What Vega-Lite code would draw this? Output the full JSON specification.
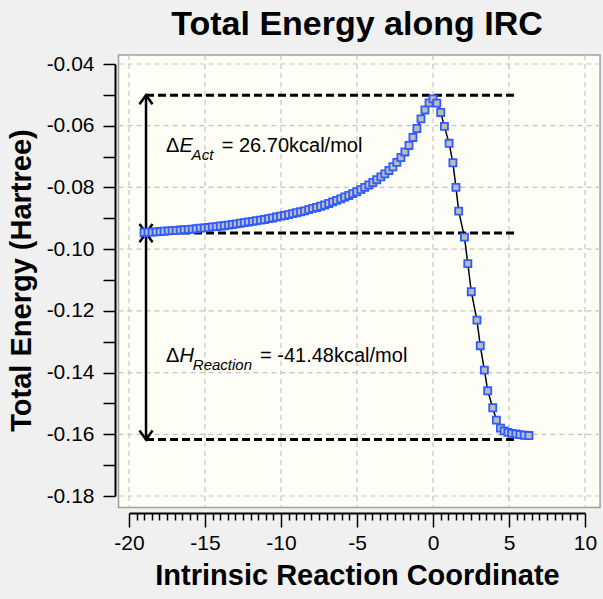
{
  "$schema": "https://vega.github.io/schema/vega-lite/v6.json",
  "autosize": "none",
  "width": 456,
  "height": 432,
  "padding": {"left": 129, "top": 64, "right": 18, "bottom": 103},
  "background": "#f0f0f0",
  "view": {"stroke": null},
  "title": {
    "text": "Total Energy along IRC",
    "font": "Liberation Sans",
    "fontSize": 34,
    "fontWeight": "bold",
    "color": "#000000",
    "anchor": "middle",
    "frame": "group",
    "offset": 11
  },
  "encoding": {
    "x": {
      "field": "x",
      "type": "quantitative",
      "scale": {"domain": [-20, 10], "nice": false, "zero": false},
      "axis": {
        "title": "Intrinsic Reaction Coordinate",
        "titleFont": "Liberation Sans",
        "titleFontSize": 29,
        "titleFontWeight": "bold",
        "titleColor": "#000000",
        "titlePadding": 8,
        "offset": 17,
        "grid": false,
        "values": [-20, -19.5, -19, -18.5, -18, -17.5, -17, -16.5, -16, -15.5, -15, -14.5, -14, -13.5, -13, -12.5, -12, -11.5, -11, -10.5, -10, -9.5, -9, -8.5, -8, -7.5, -7, -6.5, -6, -5.5, -5, -4.5, -4, -3.5, -3, -2.5, -2, -1.5, -1, -0.5, 0, 0.5, 1, 1.5, 2, 2.5, 3, 3.5, 4, 4.5, 5, 5.5, 6, 6.5, 7, 7.5, 8, 8.5, 9, 9.5, 10],
        "labelExpr": "datum.value % 5 === 0 ? (datum.value < 0 ? '-' + abs(datum.value) : '' + datum.value) : ''",
        "labelFont": "Liberation Sans",
        "labelFontSize": 21,
        "labelColor": "#000000",
        "labelPadding": 5,
        "labelFlush": false,
        "labelOverlap": false,
        "tickColor": "#000000",
        "tickWidth": 1.5,
        "tickSize": {"condition": {"test": "datum.value % 5 === 0", "value": 14}, "value": 7},
        "domainColor": "#000000",
        "domainWidth": 2
      }
    },
    "y": {
      "field": "y",
      "type": "quantitative",
      "scale": {"domain": [-0.18, -0.04], "nice": false, "zero": false},
      "axis": {
        "title": "Total Energy (Hartree)",
        "titleFont": "Liberation Sans",
        "titleFontSize": 29,
        "titleFontWeight": "bold",
        "titleColor": "#000000",
        "titlePadding": 10,
        "offset": 14,
        "grid": false,
        "values": [-0.18, -0.17, -0.16, -0.15, -0.14, -0.13, -0.12, -0.11, -0.1, -0.09, -0.08, -0.07, -0.06, -0.05, -0.04],
        "labelExpr": "round(datum.value * 100) % 2 === 0 ? '-' + format(abs(datum.value), '.2f') : ''",
        "labelFont": "Liberation Sans",
        "labelFontSize": 21,
        "labelColor": "#000000",
        "labelPadding": 9,
        "labelOverlap": false,
        "tickColor": "#000000",
        "tickWidth": 1.5,
        "tickSize": 12,
        "domainColor": "#000000",
        "domainWidth": 2
      }
    }
  },
  "layer": [
    {
      "data": {"values": [{"x": -20.69, "x2": 10.99, "y": -0.0371, "y2": -0.1837}]},
      "mark": {"type": "rect", "fill": "#fefef6", "stroke": "#a0a0a0", "strokeWidth": 1.5},
      "encoding": {"x2": {"field": "x2"}, "y2": {"field": "y2"}}
    },
    {
      "data": {"values": [
        {"x": -20, "x2": -20, "y": -0.0371, "y2": -0.1837},
        {"x": -15, "x2": -15, "y": -0.0371, "y2": -0.1837},
        {"x": -10, "x2": -10, "y": -0.0371, "y2": -0.1837},
        {"x": -5, "x2": -5, "y": -0.0371, "y2": -0.1837},
        {"x": 0, "x2": 0, "y": -0.0371, "y2": -0.1837},
        {"x": 5, "x2": 5, "y": -0.0371, "y2": -0.1837},
        {"x": 10, "x2": 10, "y": -0.0371, "y2": -0.1837},
        {"x": -20.69, "x2": 10.99, "y": -0.04, "y2": -0.04},
        {"x": -20.69, "x2": 10.99, "y": -0.06, "y2": -0.06},
        {"x": -20.69, "x2": 10.99, "y": -0.08, "y2": -0.08},
        {"x": -20.69, "x2": 10.99, "y": -0.1, "y2": -0.1},
        {"x": -20.69, "x2": 10.99, "y": -0.12, "y2": -0.12},
        {"x": -20.69, "x2": 10.99, "y": -0.14, "y2": -0.14},
        {"x": -20.69, "x2": 10.99, "y": -0.16, "y2": -0.16},
        {"x": -20.69, "x2": 10.99, "y": -0.18, "y2": -0.18}
      ]},
      "mark": {"type": "rule", "color": "#c4c4c4", "strokeWidth": 1.2, "strokeDash": [5, 4]},
      "encoding": {"x2": {"field": "x2"}, "y2": {"field": "y2"}}
    },
    {
      "data": {"values": [
        {"level": "TS", "y": -0.0501, "x": -18.88, "x2": 5.53},
        {"level": "Reactant", "y": -0.0948, "x": -18.88, "x2": 5.53},
        {"level": "Product", "y": -0.1617, "x": -18.88, "x2": 5.53}
      ]},
      "mark": {"type": "rule", "color": "#000000", "strokeWidth": 3, "strokeDash": [8, 4]},
      "encoding": {"x2": {"field": "x2"}}
    },
    {
      "data": {"values": [
        {"x": -18.88, "y": -0.0501, "y2": -0.0948},
        {"x": -18.88, "y": -0.0948, "y2": -0.1617}
      ]},
      "mark": {"type": "rule", "color": "#000000", "strokeWidth": 2.5},
      "encoding": {"y2": {"field": "y2"}}
    },
    {
      "data": {"values": [
        {"x": -18.88, "y": -0.0501, "dir": "up"},
        {"x": -18.88, "y": -0.0948, "dir": "down"},
        {"x": -18.88, "y": -0.0948, "dir": "up"},
        {"x": -18.88, "y": -0.1617, "dir": "down"}
      ]},
      "mark": {"type": "point", "filled": false, "stroke": "#000000", "strokeWidth": 2.5, "opacity": 1, "size": 170},
      "encoding": {
        "shape": {
          "field": "dir",
          "type": "nominal",
          "scale": {"domain": ["up", "down"], "range": ["M-1,1.4L0,0L1,1.4", "M-1,-1.4L0,0L1,-1.4"]},
          "legend": null
        }
      }
    },
    {
      "data": {"name": "irc"},
      "mark": {"type": "line", "color": "#000000", "strokeWidth": 1.5}
    },
    {
      "data": {"name": "irc"},
      "mark": {"type": "point", "shape": "square", "filled": true, "fill": "#bcbcbc", "stroke": "#2f5cff", "strokeWidth": 1.8, "opacity": 1, "size": 50}
    },
    {
      "data": {"values": [
        {"x": -17.57, "y": -0.06843, "text": "Δ"},
        {"x": -17.57, "y": -0.1366, "text": "Δ"},
        {"x": -13.9, "y": -0.06843, "text": "= 26.70kcal/mol"},
        {"x": -11.38, "y": -0.1366, "text": "= -41.48kcal/mol"}
      ]},
      "mark": {"type": "text", "font": "Liberation Sans", "fontSize": 20, "align": "left", "baseline": "alphabetic", "color": "#000000"},
      "encoding": {"text": {"field": "text"}}
    },
    {
      "data": {"values": [
        {"x": -16.68, "y": -0.06843, "text": "E"},
        {"x": -16.68, "y": -0.1366, "text": "H"}
      ]},
      "mark": {"type": "text", "font": "Liberation Sans", "fontSize": 20, "fontStyle": "italic", "align": "left", "baseline": "alphabetic", "color": "#000000"},
      "encoding": {"text": {"field": "text"}}
    },
    {
      "data": {"values": [
        {"x": -15.88, "y": -0.071, "text": "Act"},
        {"x": -15.8, "y": -0.1392, "text": "Reaction"}
      ]},
      "mark": {"type": "text", "font": "Liberation Sans", "fontSize": 15, "fontStyle": "italic", "align": "left", "baseline": "alphabetic", "color": "#000000"},
      "encoding": {"text": {"field": "text"}}
    }
  ],
  "datasets": {
    "irc": [
      {"x": -19.01, "y": -0.0946}, {"x": -18.75, "y": -0.0945}, {"x": -18.48, "y": -0.0945}, {"x": -18.22, "y": -0.0944},
      {"x": -17.95, "y": -0.0943}, {"x": -17.69, "y": -0.0942}, {"x": -17.42, "y": -0.0941}, {"x": -17.16, "y": -0.094},
      {"x": -16.9, "y": -0.0939}, {"x": -16.63, "y": -0.0938}, {"x": -16.37, "y": -0.0937}, {"x": -16.1, "y": -0.0936},
      {"x": -15.84, "y": -0.0935}, {"x": -15.58, "y": -0.0934}, {"x": -15.31, "y": -0.0932}, {"x": -15.05, "y": -0.0931},
      {"x": -14.78, "y": -0.093}, {"x": -14.52, "y": -0.0928}, {"x": -14.26, "y": -0.0927}, {"x": -13.99, "y": -0.0925},
      {"x": -13.73, "y": -0.0924}, {"x": -13.46, "y": -0.0922}, {"x": -13.2, "y": -0.092}, {"x": -12.94, "y": -0.0918},
      {"x": -12.67, "y": -0.0916}, {"x": -12.41, "y": -0.0914}, {"x": -12.14, "y": -0.0912}, {"x": -11.88, "y": -0.091},
      {"x": -11.62, "y": -0.0908}, {"x": -11.35, "y": -0.0906}, {"x": -11.09, "y": -0.0904}, {"x": -10.82, "y": -0.0901},
      {"x": -10.56, "y": -0.0899}, {"x": -10.3, "y": -0.0896}, {"x": -10.03, "y": -0.0893}, {"x": -9.77, "y": -0.0891},
      {"x": -9.5, "y": -0.0888}, {"x": -9.24, "y": -0.0885}, {"x": -8.98, "y": -0.0882}, {"x": -8.71, "y": -0.0879},
      {"x": -8.45, "y": -0.0876}, {"x": -8.18, "y": -0.0872}, {"x": -7.92, "y": -0.0868}, {"x": -7.66, "y": -0.0865},
      {"x": -7.39, "y": -0.0861}, {"x": -7.13, "y": -0.0857}, {"x": -6.86, "y": -0.0852}, {"x": -6.6, "y": -0.0847},
      {"x": -6.34, "y": -0.0842}, {"x": -6.07, "y": -0.0837}, {"x": -5.81, "y": -0.0831}, {"x": -5.54, "y": -0.0826},
      {"x": -5.28, "y": -0.082}, {"x": -5.02, "y": -0.0814}, {"x": -4.75, "y": -0.0807}, {"x": -4.49, "y": -0.08},
      {"x": -4.22, "y": -0.0792}, {"x": -3.96, "y": -0.0784}, {"x": -3.7, "y": -0.0775}, {"x": -3.43, "y": -0.0766},
      {"x": -3.17, "y": -0.0756}, {"x": -2.9, "y": -0.0745}, {"x": -2.64, "y": -0.0733}, {"x": -2.38, "y": -0.0719},
      {"x": -2.11, "y": -0.0703}, {"x": -1.85, "y": -0.0685}, {"x": -1.58, "y": -0.0664}, {"x": -1.32, "y": -0.0638},
      {"x": -1.06, "y": -0.0609}, {"x": -0.79, "y": -0.0578}, {"x": -0.53, "y": -0.0549}, {"x": -0.26, "y": -0.0526},
      {"x": 0.0, "y": -0.0513},
      {"x": 0.25, "y": -0.0527}, {"x": 0.51, "y": -0.0557}, {"x": 0.75, "y": -0.0602}, {"x": 1.06, "y": -0.0657},
      {"x": 1.31, "y": -0.072}, {"x": 1.51, "y": -0.08}, {"x": 1.69, "y": -0.0877}, {"x": 2.07, "y": -0.0961},
      {"x": 2.29, "y": -0.1047}, {"x": 2.52, "y": -0.1138}, {"x": 2.89, "y": -0.123}, {"x": 3.11, "y": -0.1313},
      {"x": 3.38, "y": -0.1392}, {"x": 3.6, "y": -0.1459}, {"x": 3.93, "y": -0.1514}, {"x": 4.17, "y": -0.1554},
      {"x": 4.44, "y": -0.158}, {"x": 4.68, "y": -0.1589}, {"x": 4.93, "y": -0.1594}, {"x": 5.18, "y": -0.1597},
      {"x": 5.45, "y": -0.1599}, {"x": 5.72, "y": -0.1601}, {"x": 6.0, "y": -0.1603}, {"x": 6.31, "y": -0.1604}
    ]
  }
}
